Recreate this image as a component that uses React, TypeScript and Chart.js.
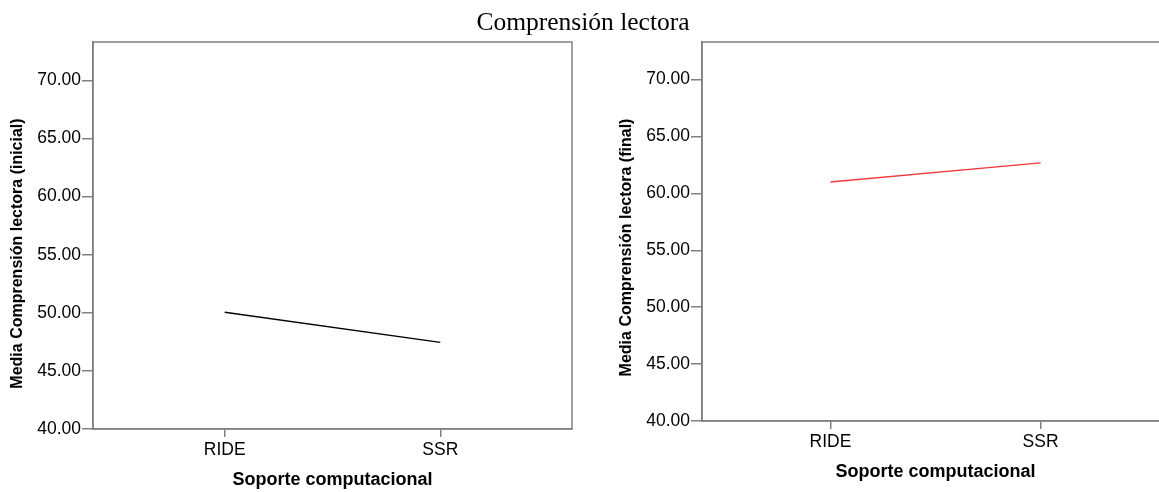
import React, { useEffect, useRef } from 'react';
import { Chart, registerables } from 'chart.js';

Chart.register(...registerables);

// ---- data ----
const categories = ['RIDE', 'SSR'];
const inicialValues = [50.05, 47.45];
const finalValues = [61.0, 62.68];
const yTicks = [40, 45, 50, 55, 60, 65, 70];
const yMin = 40;
const yMax = 73.3;

const chartTitle = 'Comprensión lectora';
const xTitle = 'Soporte computacional';
const yTitleInicial = 'Media Comprensión lectora (inicial)';
const yTitleFinal = 'Media Comprensión lectora (final)';

const AXIS_COLOR = '#808080';
const SANS = "'Liberation Sans', Arial, sans-serif";

const framePlugin = {
  id: 'frame',
  afterDraw(chart: any, _args: any, o: any) {
    const { ctx, chartArea } = chart;
    const { left, top, right, bottom } = chartArea;
    ctx.save();
    ctx.strokeStyle = o.color;
    ctx.lineWidth = o.width;
    ctx.strokeRect(left, top, right - left, bottom - top);
    ctx.restore();
  },
};

const yTitlePlugin = {
  id: 'yTitle',
  afterDraw(chart: any, _args: any, o: any) {
    const { ctx, chartArea } = chart;
    ctx.save();
    ctx.translate(o.x, (chartArea.top + chartArea.bottom) / 2 + o.dy);
    ctx.rotate(-Math.PI / 2);
    ctx.font = `bold ${o.size}px ${SANS}`;
    ctx.fillStyle = '#000';
    ctx.textAlign = 'center';
    ctx.textBaseline = 'middle';
    ctx.fillText(o.text, 0, 0);
    ctx.restore();
  },
};

function makeConfig(values: number[], color: string, yTitle: string, p: any): any {
  return {
    type: 'line',
    data: {
      datasets: [
        {
          data: values.map((v, i) => ({ x: i + 1, y: v })),
          borderColor: color,
          borderWidth: 1.4,
          pointRadius: 0,
          fill: false,
          tension: 0,
        },
      ],
    },
    plugins: [framePlugin, yTitlePlugin],
    options: {
      responsive: false,
      animation: false,
      devicePixelRatio: 1,
      layout: { padding: { top: 42, right: p.right, bottom: p.bottom, left: 0 } },
      plugins: {
        legend: { display: false },
        tooltip: { enabled: false },
        frame: { color: AXIS_COLOR, width: 1.5 },
        yTitle: { text: yTitle, x: p.titleX, dy: p.titleDy, size: 16 },
      },
      scales: {
        x: {
          type: 'linear',
          min: 0.389,
          max: 2.611,
          afterBuildTicks: (s: any) => {
            s.ticks = categories.map((_, i) => ({ value: i + 1 }));
          },
          afterFit: (s: any) => {
            s.height = 63;
          },
          ticks: {
            callback: (_v: any, i: number) => categories[i] ?? '',
            font: { family: SANS, size: 17.5 },
            color: '#000',
            padding: 3,
            maxRotation: 0,
            autoSkip: false,
          },
          grid: {
            display: true,
            drawOnChartArea: false,
            drawTicks: true,
            tickLength: 8,
            color: AXIS_COLOR,
            lineWidth: 1.5,
          },
          border: { display: true, color: AXIS_COLOR, width: 1.5 },
          title: {
            display: true,
            text: xTitle,
            color: '#000',
            font: { family: SANS, size: 18, weight: 'bold', lineHeight: 1.2 },
            padding: { top: 0, bottom: 1 },
          },
        },
        y: {
          type: 'linear',
          min: yMin,
          max: yMax,
          afterBuildTicks: (s: any) => {
            s.ticks = yTicks.map((v) => ({ value: v }));
          },
          afterFit: (s: any) => {
            s.width = p.yWidth;
          },
          ticks: {
            callback: (v: any) => Number(v).toFixed(2),
            font: { family: SANS, size: 17.5 },
            color: '#000',
            padding: 1,
          },
          grid: {
            display: true,
            drawOnChartArea: false,
            drawTicks: true,
            tickLength: 11,
            color: AXIS_COLOR,
            lineWidth: 1.5,
          },
          border: { display: true, color: AXIS_COLOR, width: 1.5 },
          title: { display: false },
        },
      },
    },
  };
}

function Panel(props: { values: number[]; color: string; yTitle: string; p: any; left: number }) {
  const ref = useRef<HTMLCanvasElement>(null);
  useEffect(() => {
    if (!ref.current) return;
    const chart = new Chart(ref.current, makeConfig(props.values, props.color, props.yTitle, props.p));
    return () => chart.destroy();
  }, []);
  return (
    <canvas
      ref={ref}
      width={600}
      height={492}
      style={{ position: 'absolute', left: props.left, top: 0, width: 600, height: 492 }}
    />
  );
}

export default function App() {
  return (
    <div
      style={{
        position: 'absolute',
        left: 0,
        top: 0,
        width: 1159,
        height: 492,
        overflow: 'hidden',
        background: '#fff',
      }}
    >
      <Panel
        values={inicialValues}
        color="#000000"
        yTitle={yTitleInicial}
        left={0}
        p={{ right: 28, bottom: 0, yWidth: 93, titleX: 18, titleDy: 18 }}
      />
      <Panel
        values={finalValues}
        color="#f03a3a"
        yTitle={yTitleFinal}
        left={605}
        p={{ right: 36, bottom: 8, yWidth: 97, titleX: 22, titleDy: 16 }}
      />
      <div
        style={{
          position: 'absolute',
          left: 0,
          width: 1166,
          top: 7,
          textAlign: 'center',
          fontFamily: "'Liberation Serif', 'Times New Roman', serif",
          fontSize: 25.5,
          lineHeight: '30px',
          color: '#000',
        }}
      >
        {chartTitle}
      </div>
    </div>
  );
}
